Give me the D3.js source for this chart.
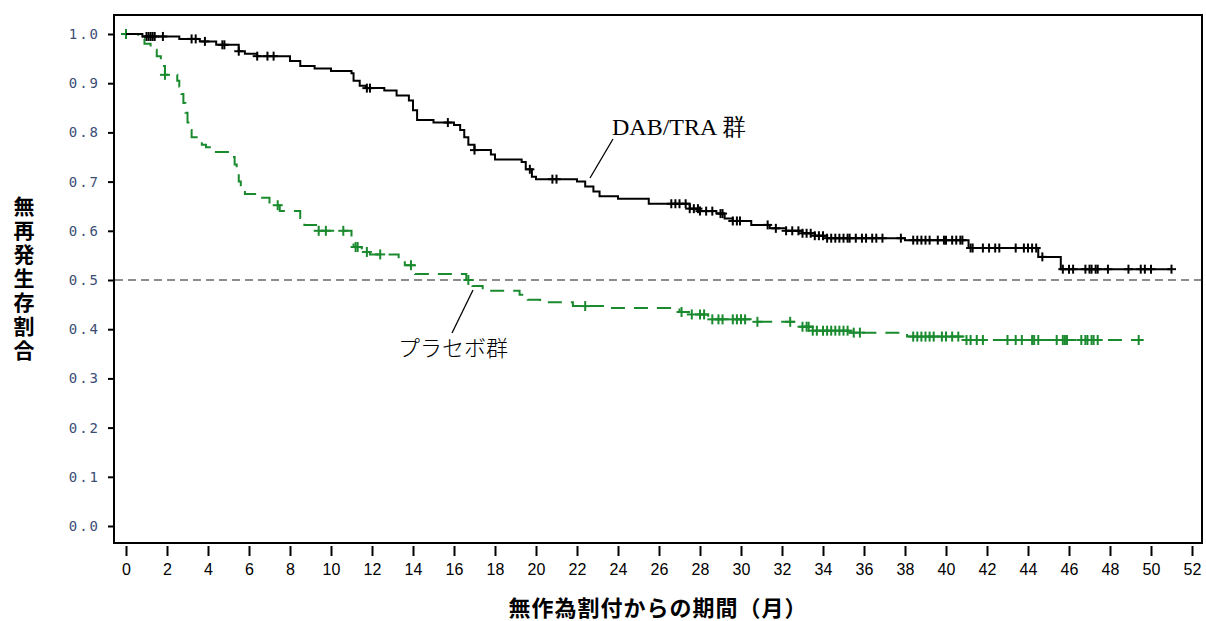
<!DOCTYPE html>
<html>
<head>
<meta charset="utf-8">
<script src="https://cdn.jsdelivr.net/npm/d3@7"></script>
<style>
  body { margin: 0; background: #fff; }
  svg { display: block; }
</style>
</head>
<body>
<svg id="chart"></svg>
<script>
// DAB/TRA group: step times (months) and survival after each step
var dabTimes = [0, 0.8, 2.6, 3.6, 4.4, 5.5, 5.8, 6.4, 8.0, 8.5, 9.2, 10.0, 11.0, 11.1, 11.4, 11.7, 12.6, 13.2, 13.8, 14.0, 14.2, 15.0, 16.0, 16.3, 16.5, 16.7, 17.0, 17.8, 18.0, 19.3, 19.5, 19.8, 20.0, 22.0, 22.4, 22.8, 23.1, 24.0, 25.5, 27.5, 28.0, 28.8, 29.2, 29.6, 30.5, 31.4, 32.2, 33.0, 33.6, 34.2, 38.0, 41.1, 44.5, 45.6];
var dabSurv  = [1.0, 0.995, 0.99, 0.985, 0.978, 0.965, 0.96, 0.955, 0.945, 0.935, 0.93, 0.925, 0.92, 0.905, 0.895, 0.89, 0.885, 0.875, 0.865, 0.845, 0.825, 0.82, 0.815, 0.805, 0.79, 0.775, 0.764, 0.755, 0.745, 0.74, 0.725, 0.71, 0.705, 0.70, 0.69, 0.68, 0.67, 0.665, 0.655, 0.645, 0.64, 0.635, 0.625, 0.62, 0.612, 0.605, 0.60, 0.595, 0.59, 0.585, 0.581, 0.565, 0.547, 0.522];
var dabEnd = 51.0;
var dabCensor = [1.0, 1.1, 1.2, 1.3, 1.4, 1.8, 3.2, 3.4, 3.85, 4.7, 4.8, 5.5, 6.4, 6.9, 7.2, 11.75, 11.9, 15.7, 17.0, 19.7, 20.8, 21.0, 26.6, 26.8, 27.0, 27.3, 27.5, 27.7, 27.9, 28.0, 28.3, 28.6, 29.0, 29.1, 29.6, 29.8, 29.95, 31.3, 31.7, 32.2, 32.5, 32.8, 33.0, 33.2, 33.4, 33.6, 33.8, 34.0, 34.2, 34.4, 34.6, 34.8, 35.0, 35.2, 35.3, 35.6, 35.9, 36.1, 36.4, 36.6, 36.9, 37.8, 38.4, 38.6, 38.8, 39.0, 39.2, 39.6, 39.9, 40.0, 40.3, 40.5, 40.7, 40.8, 41.2, 41.3, 41.8, 42.1, 42.4, 42.6, 43.4, 43.8, 44.0, 44.2, 44.4, 44.7, 45.7, 46.0, 46.2, 46.8, 47.0, 47.1, 47.3, 47.4, 47.9, 48.9, 49.5, 49.7, 50.0, 51.0];

// placebo group
var pboTimes = [0, 0.6, 0.9, 1.2, 1.5, 1.7, 1.8, 1.9, 2.5, 2.6, 2.7, 2.8, 2.9, 3.0, 3.1, 3.2, 3.7, 3.9, 4.2, 5.2, 5.3, 5.4, 5.5, 5.6, 5.8, 6.4, 7.0, 7.5, 8.5, 8.7, 9.4, 11.0, 11.1, 11.5, 11.9, 13.3, 13.6, 14.1, 16.6, 16.9, 17.4, 19.2, 19.6, 20.2, 21.8, 23.5, 27.0, 27.6, 28.4, 30.6, 32.8, 33.5, 35.3, 38.1, 41.0];
var pboSurv  = [1.0, 0.99, 0.98, 0.968, 0.955, 0.945, 0.935, 0.917, 0.905, 0.893, 0.878, 0.86, 0.84, 0.82, 0.805, 0.79, 0.775, 0.77, 0.76, 0.75, 0.735, 0.72, 0.70, 0.685, 0.675, 0.667, 0.652, 0.64, 0.626, 0.612, 0.60, 0.583, 0.567, 0.557, 0.552, 0.54, 0.53, 0.512, 0.50, 0.488, 0.478, 0.47, 0.46, 0.455, 0.447, 0.443, 0.435, 0.43, 0.42, 0.415, 0.405, 0.397, 0.393, 0.385, 0.378];
var pboEnd = 49.6;
var pboCensor = [0, 1.9, 7.4, 9.4, 9.75, 10.6, 11.2, 11.3, 11.75, 12.4, 13.9, 16.7, 22.4, 27.1, 27.6, 28.0, 28.2, 28.6, 28.9, 29.1, 29.6, 29.8, 30.0, 30.2, 30.8, 32.4, 33.0, 33.2, 33.3, 33.5, 33.7, 34.0, 34.2, 34.4, 34.6, 34.8, 35.0, 35.2, 35.5, 35.8, 38.4, 38.6, 38.8, 39.0, 39.2, 39.4, 39.8, 40.0, 40.3, 40.6, 41.0, 41.2, 41.5, 41.8, 43.0, 43.4, 43.7, 44.2, 44.3, 44.5, 45.4, 45.7, 45.8, 45.9, 46.6, 46.8, 46.9, 47.1, 47.2, 47.4, 49.4];

var xTickValues = [0, 2, 4, 6, 8, 10, 12, 14, 16, 18, 20, 22, 24, 26, 28, 30, 32, 34, 36, 38, 40, 42, 44, 46, 48, 50, 52];
var yTickValues = [0, 0.1, 0.2, 0.3, 0.4, 0.5, 0.6, 0.7, 0.8, 0.9, 1.0];

var W = 1206, H = 621;
var frame = {left: 114, top: 15, right: 1202, bottom: 543};

var svg = d3.select("#chart").attr("width", W).attr("height", H);

var x = d3.scaleLinear().domain([0, 52]).range([126, 1192]);
var y = d3.scaleLinear().domain([0, 1]).range([526, 34]);

// plot frame
svg.append("rect")
    .attr("x", frame.left).attr("y", frame.top)
    .attr("width", frame.right - frame.left).attr("height", frame.bottom - frame.top)
    .attr("fill", "none").attr("stroke", "#000").attr("stroke-width", 2);

// y axis
var yAxis = d3.axisLeft(y).tickValues(yTickValues).tickSize(6).tickPadding(8)
    .tickFormat(d3.format(".1f"));
var gy = svg.append("g").attr("transform", "translate(" + frame.left + ",0)").call(yAxis);
gy.select(".domain").remove();
gy.selectAll("line").attr("stroke", "#000").attr("stroke-width", 2);
gy.selectAll("text")
    .attr("font-family", "'DejaVu Sans Mono', monospace")
    .attr("font-size", 14)
    .attr("letter-spacing", "2px")
    .attr("fill", "#3b4d75");

// x axis, offset below the frame
var xAxis = d3.axisBottom(x).tickValues(xTickValues).tickSize(10).tickPadding(8);
var gx = svg.append("g").attr("transform", "translate(0," + (frame.bottom + 3) + ")").call(xAxis);
gx.select(".domain").remove();
gx.selectAll("line").attr("stroke", "#000").attr("stroke-width", 2);
gx.selectAll("text")
    .attr("font-family", "'Liberation Sans', Arial, sans-serif")
    .attr("font-size", 16)
    .attr("fill", "#000");

// 0.5 reference line
svg.append("line")
    .attr("x1", frame.left + 1).attr("x2", frame.right - 1)
    .attr("y1", y(0.5)).attr("y2", y(0.5))
    .attr("stroke", "#8c8c8c").attr("stroke-width", 2)
    .attr("stroke-dasharray", "8,5");

function kmPoints(times, surv, end) {
    var pts = times.map(function (t, i) { return [t, surv[i]]; });
    pts.push([end, surv[surv.length - 1]]);
    return pts;
}

function survAt(times, surv, t) {
    var s = surv[0];
    for (var i = 0; i < times.length; i++) {
        if (times[i] <= t) s = surv[i];
    }
    return s;
}

var line = d3.line()
    .x(function (d) { return x(d[0]); })
    .y(function (d) { return y(d[1]); })
    .curve(d3.curveStepAfter);

function drawGroup(times, surv, end, censor, color, dash, arm) {
    svg.append("path")
        .datum(kmPoints(times, surv, end))
        .attr("d", line)
        .attr("fill", "none")
        .attr("stroke", color)
        .attr("stroke-width", 2)
        .attr("stroke-dasharray", dash);

    var marks = svg.append("g").attr("stroke", color).attr("stroke-width", 2);
    censor.forEach(function (t) {
        var cx = x(t), cy = y(survAt(times, surv, t));
        marks.append("line").attr("x1", cx).attr("x2", cx)
            .attr("y1", cy - arm).attr("y2", cy + arm);
        marks.append("line").attr("x1", cx - arm).attr("x2", cx + arm)
            .attr("y1", cy).attr("y2", cy);
    });
}

drawGroup(pboTimes, pboSurv, pboEnd, pboCensor, "#1a8a2e", "14,9", 5);
drawGroup(dabTimes, dabSurv, dabEnd, dabCensor, "#000", null, 4.5);

// annotations
svg.append("text")
    .attr("x", 612).attr("y", 135)
    .attr("font-family", "'Liberation Serif', 'Times New Roman', serif")
    .attr("font-size", 24)
    .attr("fill", "#000")
    .text("DAB/TRA 群");
svg.append("line")
    .attr("x1", 613).attr("y1", 139).attr("x2", 590).attr("y2", 178)
    .attr("stroke", "#000").attr("stroke-width", 1.3);

svg.append("text")
    .attr("x", 398).attr("y", 356)
    .attr("font-family", "'Noto Sans CJK JP', sans-serif")
    .attr("font-weight", 300)
    .attr("font-size", 22)
    .attr("fill", "#000")
    .text("プラセボ群");
svg.append("line")
    .attr("x1", 473).attr("y1", 290).attr("x2", 452).attr("y2", 333)
    .attr("stroke", "#000").attr("stroke-width", 1.3);

// axis titles
svg.append("text")
    .attr("x", 24).attr("y", 196)
    .attr("writing-mode", "vertical-rl")
    .style("text-orientation", "upright")
    .attr("letter-spacing", "3px")
    .attr("font-family", "'Noto Sans CJK JP', sans-serif")
    .attr("font-weight", 600)
    .attr("font-size", 21)
    .attr("fill", "#000")
    .text("無再発生存割合");

svg.append("text")
    .attr("x", 658).attr("y", 616)
    .attr("text-anchor", "middle")
    .attr("font-family", "'Noto Sans CJK JP', sans-serif")
    .attr("font-weight", 600)
    .attr("font-size", 22)
    .attr("letter-spacing", "1px")
    .attr("fill", "#000")
    .text("無作為割付からの期間（月）");
</script>
</body>
</html>
